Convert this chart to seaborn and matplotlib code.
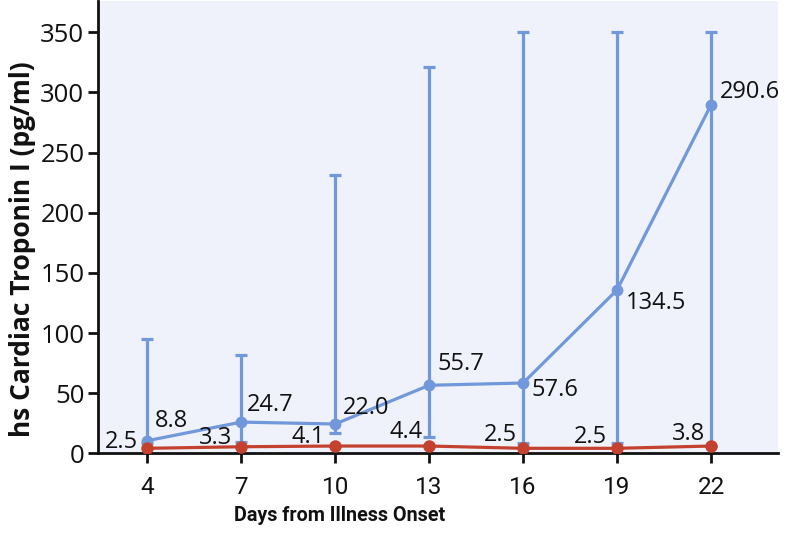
import matplotlib
matplotlib.use("Agg")
import matplotlib.pyplot as plt
import seaborn as sns
import pandas as pd

days = [4, 7, 10, 13, 16, 19, 22]
# plotted positions
blue_vals = [10.5, 26.0, 24.4, 56.6, 58.5, 135.9, 289.8]
blue_upper = [95, 82, 231, 321, 350, 350, 350]
blue_lower = [9.0, 9.7, 17.0, 13.3, 8.8, 8.8, 6.0]
red_vals = [4.2, 5.5, 6.1, 6.1, 4.2, 4.2, 6.1]
# annotated values printed on the chart
blue_labels = ["8.8", "24.7", "22.0", "55.7", "57.6", "134.5", "290.6"]
red_labels = ["2.5", "3.3", "4.1", "4.4", "2.5", "2.5", "3.8"]
y_ticks = [0, 50, 100, 150, 200, 250, 300, 350]

BLUE = "#7198da"
RED = "#c5412f"
BG = "#eff2fa"
INK = "#111111"
narrow = ["Roboto", "DejaVu Sans"]

sns.set_theme(style="ticks")
plt.rcParams["font.family"] = ["Open Sans", "DejaVu Sans"]

fig = plt.figure(figsize=(7.94, 5.34), dpi=100)
ax = fig.add_axes([0.1238, 0.151, 0.8562, 0.847])
ax.set_facecolor(BG)

df_blue = pd.DataFrame({"day": days, "value": blue_vals})
df_red = pd.DataFrame({"day": days, "value": red_vals})

yerr = [[v - lo for v, lo in zip(blue_vals, blue_lower)],
        [hi - v for v, hi in zip(blue_vals, blue_upper)]]
ax.errorbar(days, blue_vals, yerr=yerr, fmt="none", ecolor=BLUE,
            elinewidth=2.3, capsize=4.3, capthick=2.3, zorder=2)

sns.lineplot(data=df_blue, x="day", y="value", ax=ax, color=BLUE,
             linewidth=2.3, marker="o", markersize=8.5,
             markeredgewidth=0, zorder=3)
sns.lineplot(data=df_red, x="day", y="value", ax=ax, color=RED,
             linewidth=2.3, marker="o", markersize=9,
             markeredgewidth=0, zorder=4)

blue_offsets = [(8, 20), (6, 17), (8, 16), (8, 21), (8, -7), (9, -13), (9, 13)]
for d, v, lab, off in zip(days, blue_vals, blue_labels, blue_offsets):
    ax.annotate(lab, (d, v), xytext=off, textcoords="offset pixels",
                ha="left", va="center", fontsize=17, color=INK, zorder=6)

red_offsets = [(-9, 6), (-9, 9), (-10, 9), (-6, 14), (-6, 13), (-10, 11), (-6, 12)]
for d, v, lab, off in zip(days, red_vals, red_labels, red_offsets):
    ax.annotate(lab, (d, v), xytext=off, textcoords="offset pixels",
                ha="right", va="center", fontsize=17, color=INK, zorder=6)

ax.set_xlim(2.44, 24.14)
ax.set_ylim(0, 376)
ax.set_xticks(days)
ax.set_xticklabels([str(d) for d in days], fontsize=17.5, family=narrow)
ax.set_yticks(y_ticks)
ax.set_yticklabels([str(t) for t in y_ticks], fontsize=18.5)
ax.tick_params(axis="both", length=7, width=2, color=INK, labelcolor=INK)
ax.tick_params(axis="x", pad=9)
ax.tick_params(axis="y", pad=3)

for s in ["top", "right"]:
    ax.spines[s].set_visible(False)
for s in ["left", "bottom"]:
    ax.spines[s].set_color(INK)
    ax.spines[s].set_linewidth(2)

ax.set_xlabel("Days from Illness Onset", fontsize=14.2, fontweight="bold",
              family=narrow, color=INK)
ax.xaxis.set_label_coords(0.355, -0.116)
ax.set_ylabel("hs Cardiac Troponin I (pg/ml)", fontsize=19, fontweight="bold",
              color=INK)
ax.yaxis.set_label_coords(-0.092, 0.452)

fig.savefig("out.png", dpi=100)
